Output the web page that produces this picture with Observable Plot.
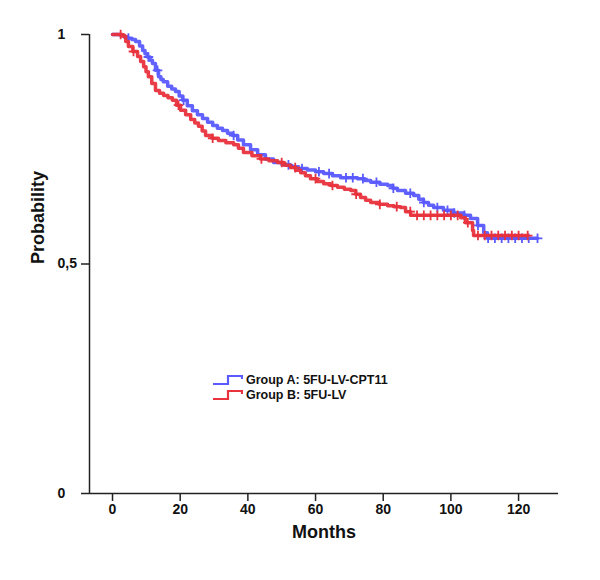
<!DOCTYPE html>
<html>
<head>
<meta charset="utf-8">
<script src="https://cdn.jsdelivr.net/npm/d3@7"></script>
<script src="https://cdn.jsdelivr.net/npm/@observablehq/plot@0.6"></script>
<style>
  body { margin: 0; background: #fff; }
  #wrap { position: relative; width: 600px; height: 580px; font-family: "Liberation Sans", Arial, sans-serif; }
  .leg { position: absolute; display: flex; align-items: center; font-weight: bold; font-size: 12.5px; color: #111; white-space: nowrap; }
  .leg svg { margin-right: 3px; }
</style>
</head>
<body>
<div id="wrap"></div>
<script>
// Group A: 5FU-LV-CPT11 (months, survival probability)
const monthsA = [0,2.4,3.5,4.5,5.7,6.8,8,8.9,9.6,10.3,11.1,11.8,12.7,13.6,14.3,15,16.3,17.5,18.6,19.7,20.7,22.1,23.6,25.1,26.6,28.1,29.6,31,32.5,34,35.5,37,38.7,40.8,42.9,45.2,47.6,50.1,52.6,55,57.6,60,62.4,65,67.4,72.4,74.5,76.3,79,81.3,82.8,84.2,86.6,89.0,90.5,91.9,93.4,94.9,97.8,100.8,103.8,105.8,107.9,109.7,110.8,125.6];
const survA  = [1.0,0.998,0.995,0.992,0.989,0.985,0.975,0.965,0.958,0.951,0.944,0.937,0.922,0.908,0.902,0.897,0.887,0.881,0.876,0.866,0.857,0.845,0.834,0.825,0.817,0.809,0.802,0.796,0.791,0.785,0.780,0.770,0.760,0.749,0.738,0.729,0.721,0.716,0.712,0.708,0.705,0.701,0.697,0.692,0.688,0.686,0.682,0.678,0.674,0.671,0.665,0.660,0.654,0.649,0.641,0.634,0.628,0.623,0.617,0.611,0.606,0.599,0.584,0.568,0.556,0.556];
const censorA = [4.7,10.6,13.3,21,35.8,52,56,61,64,69,71,74,78,83,88,92,96,99,101,104,108,111,113,115,117,119,121,123,125.6];

// Group B: 5FU-LV
const monthsB = [0,3.0,3.9,4.7,6.0,7.4,8.3,9.2,9.9,10.6,11.6,12.7,13.9,15.1,16.4,17.7,18.9,20.1,21.6,23.1,24.3,25.4,26.5,27.5,29.4,31.3,33.5,35.8,37.2,38.7,41.2,43.7,46.2,48.8,50.7,52.6,54.1,55.6,57,58.5,60.5,62.4,64.5,66.5,68.5,70.4,71.9,73.3,74.8,76.3,78.8,81.3,83.2,85.1,86.6,88.1,94.0,102.9,104.3,106.4,106.7,122.7];
const survB  = [1.0,0.996,0.985,0.974,0.963,0.952,0.941,0.930,0.919,0.908,0.893,0.878,0.872,0.867,0.862,0.857,0.846,0.835,0.825,0.815,0.807,0.800,0.790,0.780,0.774,0.769,0.764,0.760,0.752,0.743,0.736,0.729,0.725,0.721,0.715,0.710,0.704,0.699,0.692,0.686,0.680,0.675,0.671,0.667,0.663,0.660,0.652,0.645,0.639,0.634,0.630,0.627,0.625,0.623,0.614,0.606,0.606,0.601,0.590,0.573,0.562,0.562];
const censorB = [2.4,6.2,19.5,29.6,44,50,54,60,65,72,79,84,88,90,92,94,96,98,100,102,105,108,110,112,114,116,118,120,122.7];

const groupNames = ["Group A: 5FU-LV-CPT11", "Group B: 5FU-LV"];
const groupColors = ["#5a5aff", "#e8323c"];
const xTicks = [0,20,40,60,80,100,120];
const yTicks = [0,0.5,1];
const yTickLabels = ["0","0,5","1"];

function curve(months, surv, g) {
  return months.map((m, i) => ({month: m, surv: surv[i], group: g}));
}
function censorPts(times, months, surv, g) {
  return times.map(t => {
    const i = d3.bisectRight(months, t) - 1;
    return {month: t, surv: surv[Math.max(0, i)], group: g};
  });
}

const lineA = curve(monthsA, survA, groupNames[0]);
const lineB = curve(monthsB, survB, groupNames[1]);
const cA = censorPts(censorA, monthsA, survA, groupNames[0]);
const cB = censorPts(censorB, monthsB, survB, groupNames[1]);

const axisColor = "#222";
const font = "Liberation Sans, Arial, sans-serif";

const chart = Plot.plot({
  width: 600,
  height: 580,
  marginLeft: 89,
  marginRight: 42,
  marginTop: 34,
  marginBottom: 87,
  style: {fontFamily: font, background: "#fff"},
  x: {domain: [-6.8, 131.8]},
  y: {domain: [0, 1]},
  color: {domain: groupNames, range: groupColors},
  marks: [
    Plot.axisX({ticks: xTicks, tickSize: 8, tickPadding: 3, fontSize: 14, fontWeight: "bold", stroke: axisColor, fill: "#111", strokeWidth: 1.5, label: null}),
    Plot.axisY({ticks: yTicks, tickFormat: d => yTickLabels[yTicks.indexOf(d)], tickSize: 8, tickPadding: 24, textAnchor: "start", fontSize: 14, fontWeight: "bold", stroke: axisColor, fill: "#111", strokeWidth: 1.5, label: null}),
    Plot.ruleY([0], {stroke: axisColor, strokeWidth: 1.5}),
    Plot.ruleX([-6.8], {stroke: axisColor, strokeWidth: 1.5}),
    Plot.line(lineA, {x: "month", y: "surv", stroke: "group", strokeWidth: 3.5, curve: "step-after", strokeOpacity: 0.95}),
    Plot.dot(cA, {x: "month", y: "surv", stroke: "group", symbol: "plus", r: 3.2, strokeWidth: 1.8}),
    Plot.line(lineB, {x: "month", y: "surv", stroke: "group", strokeWidth: 3.5, curve: "step-after", strokeOpacity: 0.95}),
    Plot.dot(cB, {x: "month", y: "surv", stroke: "group", symbol: "plus", r: 3.2, strokeWidth: 1.8}),
    Plot.text(["Months"], {frameAnchor: "bottom", dy: 44, fontSize: 18, fontWeight: "bold", fill: "#111"}),
    Plot.text(["Probability"], {frameAnchor: "left", dx: -51, rotate: -90, fontSize: 18, fontWeight: "bold", fill: "#111"})
  ]
});

const wrap = document.getElementById("wrap");
wrap.appendChild(chart);

const legendTops = [373, 388];
groupNames.forEach((name, i) => {
  const d = document.createElement("div");
  d.className = "leg";
  d.style.left = "212px";
  d.style.top = legendTops[i] + "px";
  d.innerHTML = `<svg width="31" height="14"><path d="M1,11 H16 V3 H30 V6" fill="none" stroke="${groupColors[i]}" stroke-width="2.2"/></svg><span>${name}</span>`;
  wrap.appendChild(d);
});
</script>
</body>
</html>
